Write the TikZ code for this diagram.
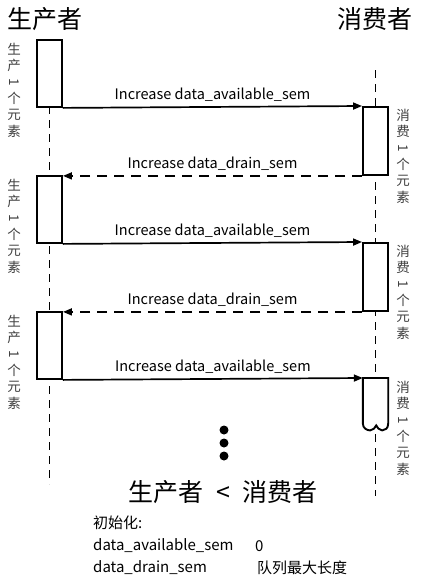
\documentclass[tikz,border=0pt]{standalone}
\usepackage{fontspec}
\setmainfont{Noto Sans CJK SC}
\usetikzlibrary{positioning, arrows.meta}

\tikzset{
  act/.style={draw, line width=1.9pt, fill=white, inner sep=0pt, minimum width=25pt, anchor=north},
  life/.style={line width=1.9pt, dash pattern=on 8pt off 6pt},
  msg/.style={line width=1.7pt, -{Triangle[length=9pt, width=7pt]}},
  back/.style={msg, dash pattern=on 10pt off 7pt},
  vlab/.style={align=center, anchor=north, inner sep=0pt, font=\fontsize{13.5}{16.3}\selectfont, text=black!75},
  lab/.style={above=1pt, font=\fontsize{14.5}{14.5}\selectfont},
  big/.style={font=\fontsize{25}{25}\selectfont},
  note/.style={anchor=west, inner sep=0pt, font=\fontsize{15}{15}\selectfont},
  dot/.style={circle, fill, inner sep=0pt, minimum size=9pt}
}
\newcommand{\vone}{\rotatebox[origin=c]{-90}{1}}

\begin{document}
\begin{tikzpicture}[x=1pt, y=-1pt]
\useasboundingbox (0,0) rectangle (428,584);
\def\xp{49.5}
\def\xc{375.5}

\node[big] (prod) at (45,19) {生产者};
\node[big] (cons) at (375,19) {消费者};

\coordinate (ptop) at (\xp,106);
\coordinate (pbot) at (\xp,484);
\coordinate (ctop) at (\xc,70);
\coordinate (cbot) at (\xc,496);
\draw[life] (ptop) -- (pbot);
\draw[life] (ctop) -- (cbot);

\def\y{0}
\node[act, minimum height=67pt] (p1) at (\xp, 39+\y) {};
\node[act, minimum height=68pt] (c1) at (\xc, 106+\y) {};
\node[vlab] (pl1) at (14, 43+\y) {生\\产\\\vone{}\\个\\元\\素};
\node[vlab] (cl1) at (403, 109+\y) {消\\费\\\vone{}\\个\\元\\素};

\def\y{136}
\node[act, minimum height=67pt] (p2) at (\xp, 39+\y) {};
\node[act, minimum height=68pt] (c2) at (\xc, 106+\y) {};
\node[vlab] (pl2) at (14, 43+\y) {生\\产\\\vone{}\\个\\元\\素};
\node[vlab] (cl2) at (403, 109+\y) {消\\费\\\vone{}\\个\\元\\素};

\def\y{272}
\node[act, minimum height=67pt] (p3) at (\xp, 39+\y) {};
\node[minimum width=25pt, minimum height=45pt, inner sep=0pt, anchor=north] (c3) at (\xc, 106+\y) {};
\draw[line width=1.9pt, fill=white] (c3.south west) -- (c3.north west) -- (c3.north east) -- (c3.south east)
  .. controls +(0,5) and +(3,0) .. ++(-6,7)
  .. controls +(-3,0) and +(1,2) .. ++(-6,-5)
  .. controls +(-1,2) and +(3,0) .. ++(-6,5)
  .. controls +(-3,0) and +(0,5) .. (c3.south west);
\node[vlab] (pl3) at (14, 43+\y) {生\\产\\\vone{}\\个\\元\\素};
\node[vlab] (cl3) at (403, 109+\y) {消\\费\\\vone{}\\个\\元\\素};

\draw[msg] (p1.south east) -- (c1.north west) node[lab, midway] {Increase data\_available\_sem};
\draw[back] (c1.south west) -- (c1.south west -| p2.north east) node[lab, midway] {Increase data\_drain\_sem};
\draw[msg] (p2.south east) -- (c2.north west) node[lab, midway] {Increase data\_available\_sem};
\draw[back] (c2.south west) -- (c2.south west -| p3.north east) node[lab, midway] {Increase data\_drain\_sem};
\draw[msg] (p3.south east) -- (c3.north west) node[lab, midway] {Increase data\_available\_sem};

\node[dot] (d1) at (224,430) {};
\node[dot] (d2) at (224,443) {};
\node[dot] (d3) at (224,456) {};

\node[big] (cmp) at (223,492) {生产者\enspace{}<\enspace{}消费者};
\node[note] (init) at (93,523) {初始化:};
\node[note] (avail) at (93,546) {data\_available\_sem};
\node[note] (zero) at (255,546) {0};
\node[note] (drain) at (93,568) {data\_drain\_sem};
\node[note] (qlen) at (257,568) {队列最大长度};
\end{tikzpicture}
\end{document}
